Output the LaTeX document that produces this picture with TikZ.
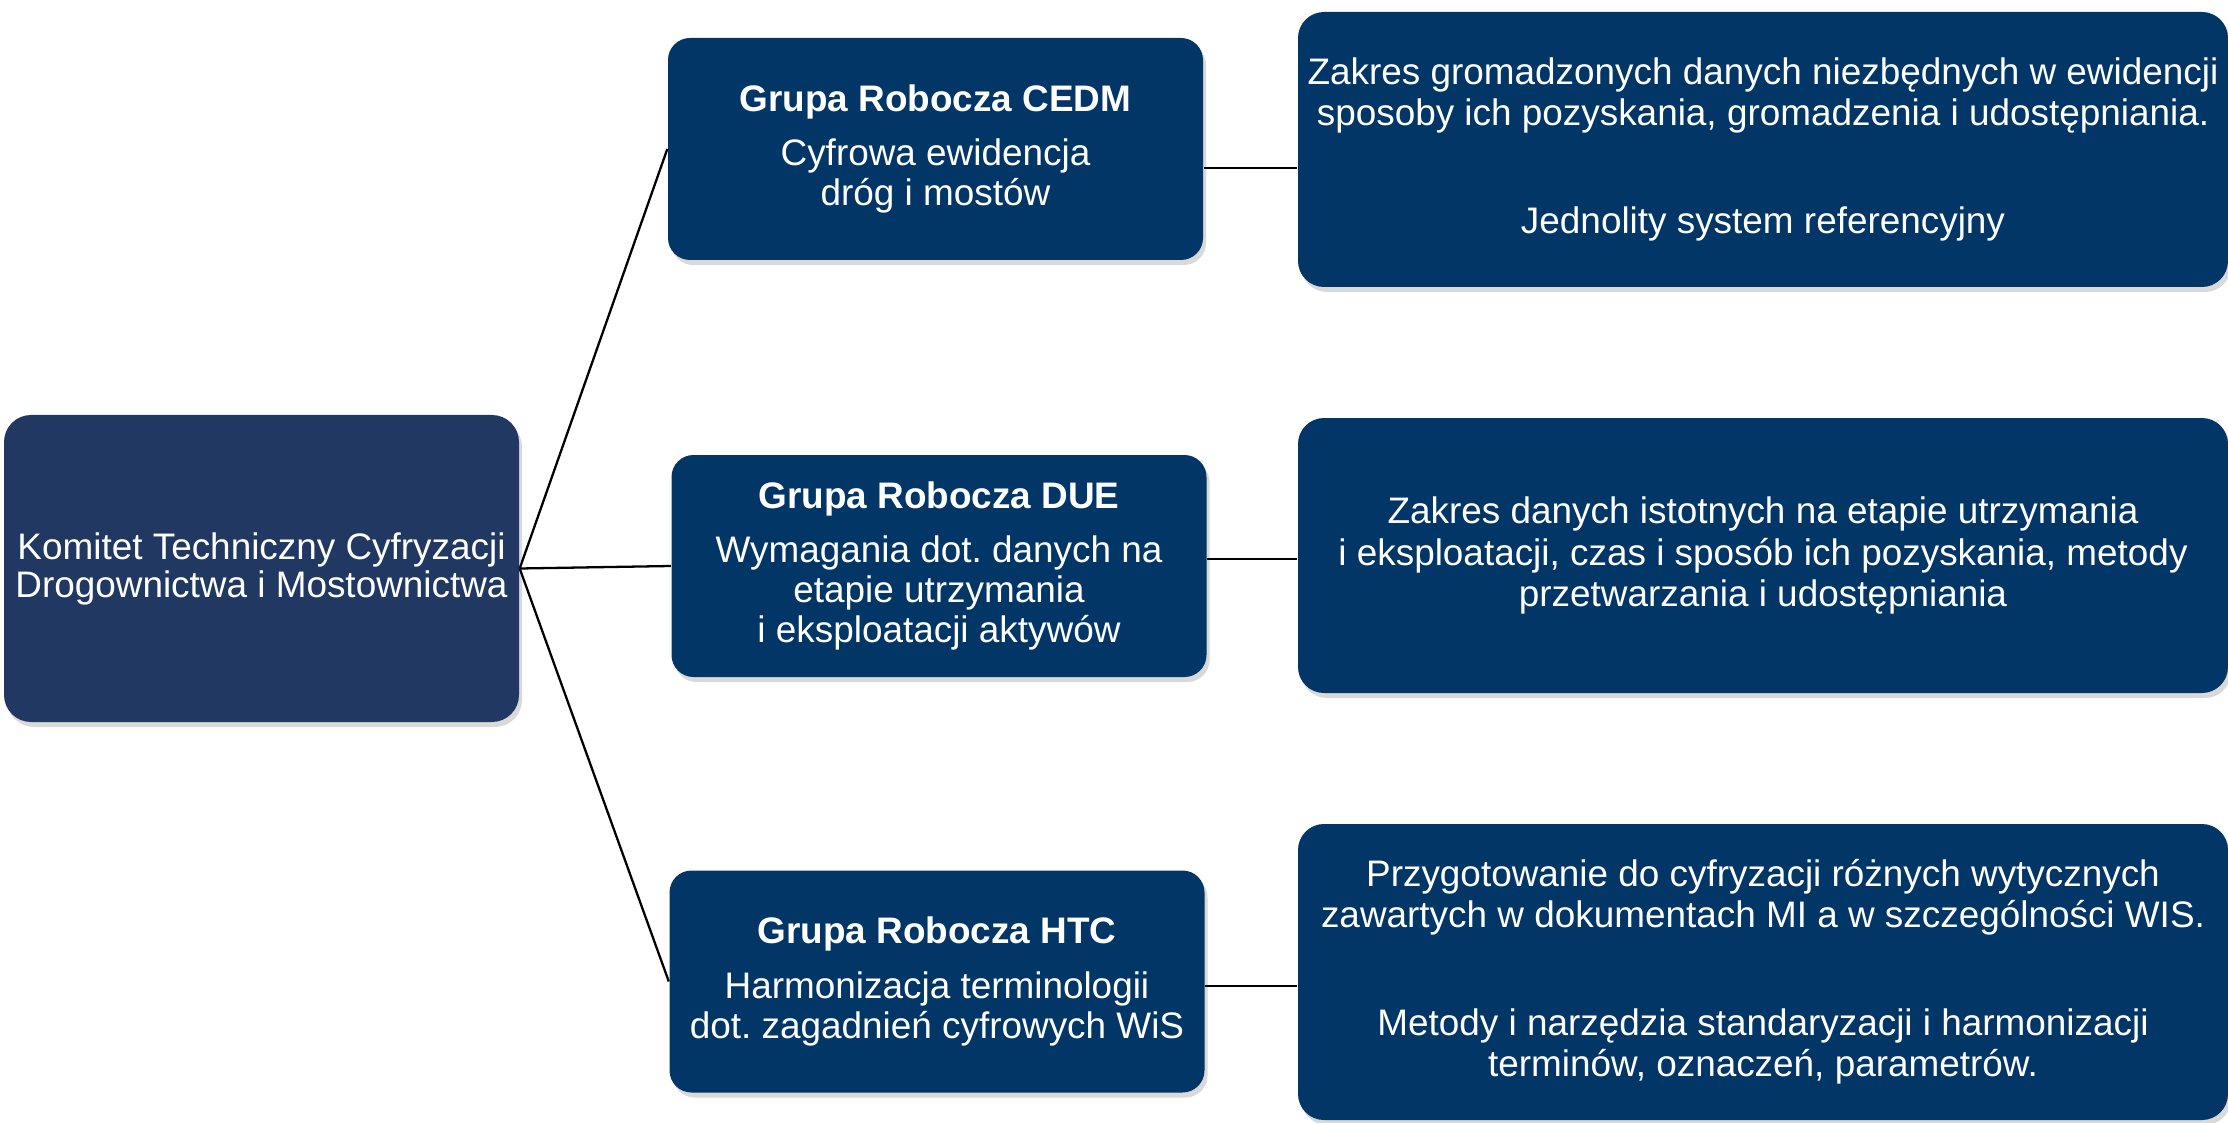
\documentclass[tikz,border=0pt]{standalone}
\usepackage{fontspec}
\setmainfont{Liberation Sans}
\usetikzlibrary{shadows}
\definecolor{komitetblue}{RGB}{33,56,99}
\definecolor{grupablue}{RGB}{2,54,102}
\frenchspacing

\begin{document}
\begin{tikzpicture}[
                box/.style={fill=grupablue,text=white,align=center,inner sep=0pt,
                    drop shadow={shadow xshift=0.03cm,shadow yshift=-0.05cm,opacity=0.3}},
                komitetbox/.style={box,fill=komitetblue,rounded corners=0.27cm,
                    minimum width=5.15cm,minimum height=3.07cm,font=\fontsize{10.5}{10.8}\selectfont},
                grupabox/.style={box,rounded corners=0.22cm,
                    minimum width=5.35cm,minimum height=2.22cm,font=\fontsize{10.5}{11.4}\selectfont},
                opisbox/.style={box,rounded corners=0.26cm,
                    minimum width=9.3cm,minimum height=2.75cm,font=\fontsize{10.5}{11.7}\selectfont},
                link/.style={line width=0.65pt}]
                \useasboundingbox (0,0) rectangle (22.28,11.22);
                \clip (0,0) rectangle (22.28,11.22);

                \node[komitetbox] (komitet) at(2.615,5.535) {Komitet Techniczny Cyfryzacji\\Drogownictwa i Mostownictwa};

                \node[grupabox] (cedm) at(9.355,9.73) {\textbf{Grupa Robocza CEDM}\\[4pt]Cyfrowa ewidencja\\dróg i mostów};
                \node[grupabox] (due) at(9.39,5.56) {\textbf{Grupa Robocza DUE}\\[4pt]Wymagania dot. danych na\\etapie utrzymania\\i eksploatacji aktywów};
                \node[grupabox] (htc) at(9.37,1.405) {\textbf{Grupa Robocza HTC}\\[4pt]Harmonizacja terminologii\\dot. zagadnień cyfrowych WiS};

                \node[opisbox] (cedmzakres) at(17.63,9.725) {Zakres gromadzonych danych niezbędnych w ewidencji\\sposoby ich pozyskania, gromadzenia i udostępniania.\\[19pt]Jednolity system referencyjny};
                \node[opisbox] (duezakres) at(17.63,5.665) {Zakres danych istotnych na etapie utrzymania\\i eksploatacji, czas i sposób ich pozyskania, metody\\przetwarzania i udostępniania};
                \node[opisbox,minimum height=2.96cm] (htczakres) at(17.63,1.50) {Przygotowanie do cyfryzacji różnych wytycznych\\zawartych w dokumentach MI a w szczególności WIS.\\[19pt]Metody i narzędzia standaryzacji i harmonizacji\\terminów, oznaczeń, parametrów.};

                \draw[link] (komitet.east)--(cedm.west);
                \draw[link] (komitet.east)--(due.west);
                \draw[link] (komitet.east)--(htc.west);

                \draw[link] ([yshift=-0.19cm]cedm.east)--([yshift=-0.19cm]cedm.east -| cedmzakres.west);
                \draw[link] ([yshift=0.07cm]due.east)--([yshift=0.07cm]due.east -| duezakres.west);
                \draw[link] ([yshift=-0.045cm]htc.east)--([yshift=-0.045cm]htc.east -| htczakres.west);
            \end{tikzpicture}
\end{document}
